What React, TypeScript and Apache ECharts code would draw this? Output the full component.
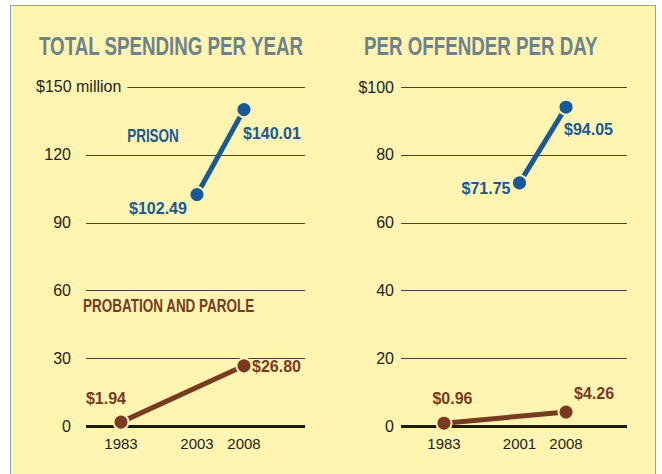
import React, { useEffect, useRef } from 'react';
import * as echarts from 'echarts';

// ---------- data ----------
const titles = ['TOTAL SPENDING PER YEAR', 'PER OFFENDER PER DAY'];
const seriesNames = ['PRISON', 'PROBATION AND PAROLE'];

const leftYears = [1983, 2003, 2008];
const rightYears = [1983, 2001, 2008];

const leftTickLabels = ['0', '30', '60', '90', '120', '$150 million'];
const rightTickLabels = ['0', '20', '40', '60', '80', '$100'];

const prisonTotalYears = [2003, 2008];
const prisonTotalValues = [102.49, 140.01];
const probationTotalYears = [1983, 2008];
const probationTotalValues = [1.94, 26.8];

const prisonDailyYears = [2001, 2008];
const prisonDailyValues = [71.75, 94.05];
const probationDailyYears = [1983, 2008];
const probationDailyValues = [0.96, 4.26];

// ---------- styles ----------
const BG = '#FFF5B0';
const BLUE = '#175A9C';
const BROWN = '#7A3A22';
const TITLE = '#6A8390';
const INK = '#231F20';
const GRID = '#4a4636';
const SANS = "'Liberation Sans', Arial, sans-serif";

type LabelPos = { align: string; dx: number; dy: number };

const labelPosPrisonTotal: LabelPos[] = [
  { align: 'center', dx: -39, dy: 13.5 },
  { align: 'left', dx: -1, dy: 23.5 },
];
const labelPosProbationTotal: LabelPos[] = [
  { align: 'center', dx: -15, dy: -24 },
  { align: 'left', dx: 8, dy: 1 },
];
const labelPosPrisonDaily: LabelPos[] = [
  { align: 'right', dx: -9, dy: 6 },
  { align: 'left', dx: -2, dy: 22.5 },
];
const labelPosProbationDaily: LabelPos[] = [
  { align: 'center', dx: 8.5, dy: -25 },
  { align: 'left', dx: 8, dy: -19 },
];

function makeSeries(
  name: string,
  years: number[],
  values: number[],
  color: string,
  idx: number,
  pos: LabelPos[],
  withBaseline: boolean
) {
  const s: any = {
    name,
    type: 'line',
    xAxisIndex: idx,
    yAxisIndex: idx,
    symbol: 'circle',
    symbolSize: 15,
    lineStyle: { color, width: 5 },
    itemStyle: { color, borderColor: BG, borderWidth: 2 },
    z: 5,
    data: years.map((y, i) => ({
      value: [y, values[i]],
      label: {
        show: true,
        position: 'inside',
        align: pos[i].align,
        verticalAlign: 'middle',
        offset: [pos[i].dx, pos[i].dy],
        color,
        fontFamily: SANS,
        fontWeight: 'bold',
        fontSize: 16,
        formatter: (p: any) => '$' + p.value[1].toFixed(2),
      },
    })),
  };
  if (withBaseline) {
    s.markLine = {
      silent: true,
      symbol: 'none',
      label: { show: false },
      lineStyle: { color: '#1a1a1a', width: 3, type: 'solid' },
      z: 3,
      data: [{ yAxis: 0 }],
    };
  }
  return s;
}

function xAxisCfg(gridIndex: number, min: number, max: number, brk: any, years: number[]) {
  return {
    type: 'value',
    gridIndex,
    min,
    max,
    breaks: [brk],
    breakArea: { show: false },
    axisLine: { show: false },
    axisTick: { show: false },
    splitLine: { show: false },
    axisLabel: {
      customValues: years,
      formatter: (v: number) => String(v),
      color: INK,
      fontFamily: SANS,
      fontSize: 15,
      margin: 9,
    },
  };
}

function yAxisCfg(gridIndex: number, max: number, interval: number, labels: string[], margin: number, hideTop: boolean) {
  return {
    type: 'value',
    gridIndex,
    min: 0,
    max,
    interval,
    axisLine: { show: false },
    axisTick: { show: false },
    splitLine: { show: true, lineStyle: { color: GRID, width: 1 } },
    axisLabel: {
      margin,
      color: INK,
      fontFamily: SANS,
      fontSize: 16,
      formatter: (v: number) => {
        const i = Math.round(v / interval);
        if (hideTop && i === labels.length - 1) return '';
        return labels[i];
      },
    },
  };
}

function condensedText(text: string, x: number, y: number, size: number, color: string, align: string) {
  return {
    type: 'text',
    z: 100,
    x,
    y,
    scaleX: 0.75,
    style: {
      text,
      fill: color,
      font: `bold ${size}px ${SANS}`,
      align,
      verticalAlign: 'middle',
    },
  };
}

export default function App() {
  const ref = useRef<HTMLDivElement>(null);

  useEffect(() => {
    if (!ref.current) return;
    const chart = echarts.init(ref.current, undefined, { renderer: 'svg' });
    const option: any = {
      animation: false,
      backgroundColor: 'transparent',
      grid: [
        { left: 86, right: 357, top: 87, bottom: 47.5 },
        { left: 401, right: 35, top: 87, bottom: 47.5 },
      ],
      xAxis: [
        xAxisCfg(0, 1979.28, 2014.49, { start: 1985, end: 2001, gap: 4.085 }, leftYears),
        xAxisCfg(1, 1976.53, 2017.18, { start: 1985, end: 1999, gap: 7.366 }, rightYears),
      ],
      yAxis: [
        yAxisCfg(0, 150, 30, leftTickLabels, 15, true),
        yAxisCfg(1, 100, 20, rightTickLabels, 7, false),
      ],
      series: [
        makeSeries(seriesNames[0], prisonTotalYears, prisonTotalValues, BLUE, 0, labelPosPrisonTotal, true),
        makeSeries(seriesNames[1], probationTotalYears, probationTotalValues, BROWN, 0, labelPosProbationTotal, false),
        makeSeries(seriesNames[0] + ' ', prisonDailyYears, prisonDailyValues, BLUE, 1, labelPosPrisonDaily, true),
        makeSeries(seriesNames[1] + ' ', probationDailyYears, probationDailyValues, BROWN, 1, labelPosProbationDaily, false),
      ],
      graphic: [
        condensedText(titles[0], 39, 47, 25, TITLE, 'left'),
        condensedText(titles[1], 364, 47, 25, TITLE, 'left'),
        {
          type: 'text',
          z: 100,
          x: 36,
          y: 86,
          style: {
            text: leftTickLabels[leftTickLabels.length - 1],
            fill: INK,
            font: `16px ${SANS}`,
            align: 'left',
            verticalAlign: 'middle',
            backgroundColor: BG,
            padding: [3, 6, 3, 0],
          },
        },
        condensedText(seriesNames[0], 153, 136, 18, BLUE, 'center'),
        condensedText(seriesNames[1], 83, 306, 18, BROWN, 'left'),
      ],
    };
    chart.setOption(option);
    return () => chart.dispose();
  }, []);

  return (
    <div style={{ position: 'fixed', left: 0, top: 0, width: 662, height: 474, background: '#ffffff', overflow: 'hidden' }}>
      <div
        style={{
          position: 'absolute',
          left: 10,
          top: 5,
          width: 646,
          height: 490,
          background: BG,
          border: '1.5px solid #8FA1B3',
          boxSizing: 'border-box',
        }}
      />
      <div ref={ref} style={{ position: 'absolute', left: 0, top: 0, width: 662, height: 474 }} />
    </div>
  );
}
